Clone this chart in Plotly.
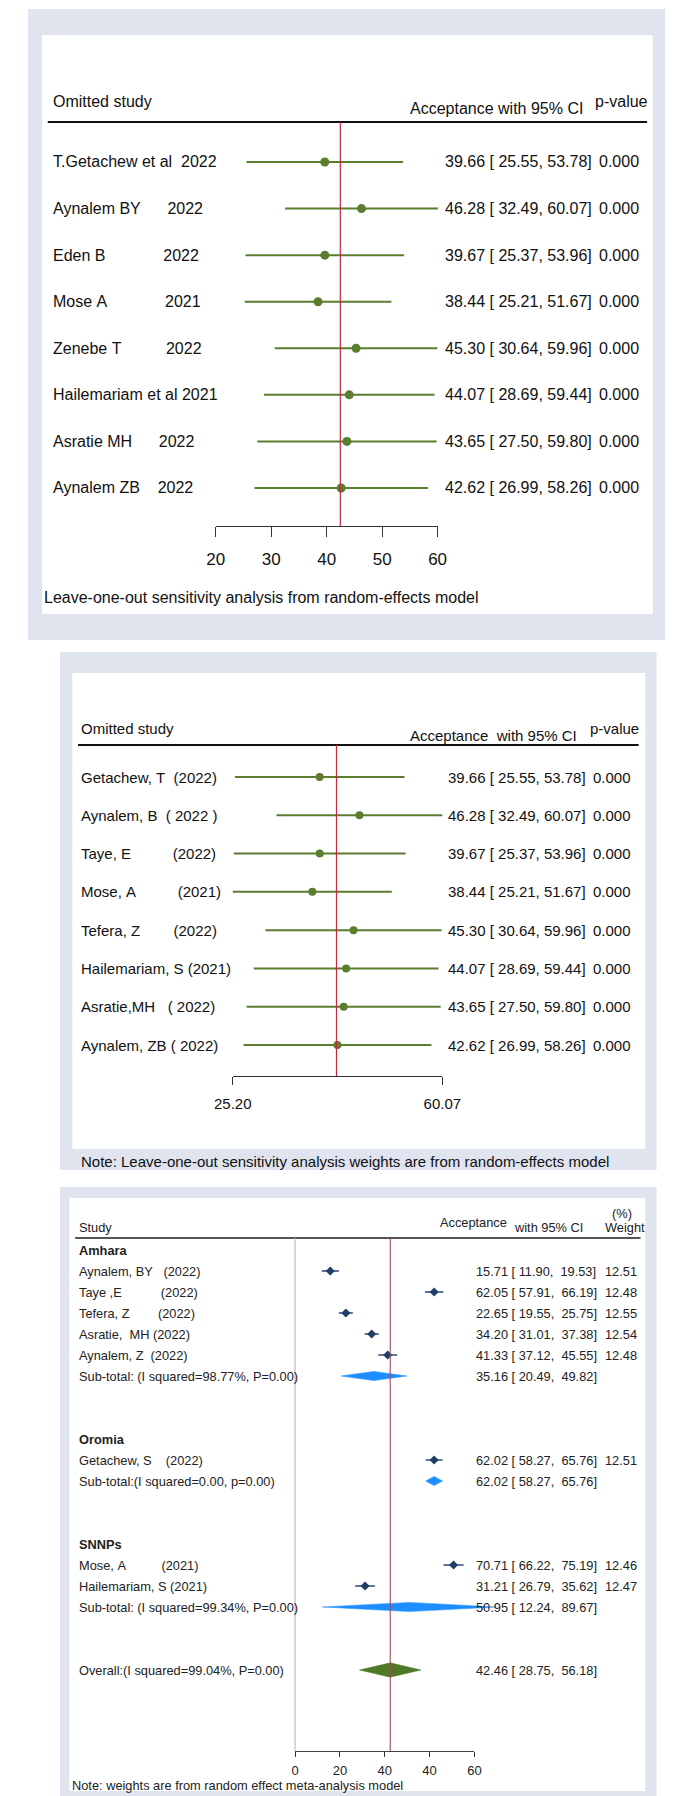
import plotly.graph_objects as go

W, H = 677, 1796

# ---------------- data ----------------
# Leave-one-out (panel 1 labels)
loo_labels_a = ["T.Getachew et al  2022", "Aynalem BY      2022", "Eden B             2022",
                "Mose A             2021", "Zenebe T          2022", "Hailemariam et al 2021",
                "Asratie MH      2022", "Aynalem ZB    2022"]
# Leave-one-out (panel 2 labels)
loo_labels_b = ["Getachew, T  (2022)", "Aynalem, B  ( 2022 )", "Taye, E          (2022)",
                "Mose, A          (2021)", "Tefera, Z        (2022)", "Hailemariam, S (2021)",
                "Asratie,MH   ( 2022)", "Aynalem, ZB ( 2022)"]
loo_est = [39.66, 46.28, 39.67, 38.44, 45.30, 44.07, 43.65, 42.62]
loo_lo = [25.55, 32.49, 25.37, 25.21, 30.64, 28.69, 27.50, 26.99]
loo_hi = [53.78, 60.07, 53.96, 51.67, 59.96, 59.44, 59.80, 58.26]
loo_p = [0.000] * 8

ticks_a = [20, 30, 40, 50, 60]
ticks_b = [25.20, 60.07]

# Subgroup forest plot
groups = ["Amhara", "Oromia", "SNNPs"]
study_group = ["Amhara", "Amhara", "Amhara", "Amhara", "Amhara", "Oromia", "SNNPs", "SNNPs"]
study_labels = ["Aynalem, BY   (2022)", "Taye ,E           (2022)", "Tefera, Z        (2022)",
                "Asratie,  MH (2022)", "Aynalem, Z  (2022)", "Getachew, S    (2022)",
                "Mose, A          (2021)", "Hailemariam, S (2021)"]
study_est = [15.71, 62.05, 22.65, 34.20, 41.33, 62.02, 70.71, 31.21]
study_lo = [11.90, 57.91, 19.55, 31.01, 37.12, 58.27, 66.22, 26.79]
study_hi = [19.53, 66.19, 25.75, 37.38, 45.55, 65.76, 75.19, 35.62]
study_wt = [12.51, 12.48, 12.55, 12.54, 12.48, 12.51, 12.46, 12.47]
sub_labels = ["Sub-total: (I squared=98.77%, P=0.00)", "Sub-total:(I squared=0.00, p=0.00)",
              "Sub-total: (I squared=99.34%, P=0.00)"]
sub_est = [35.16, 62.02, 50.95]
sub_lo = [20.49, 58.27, 12.24]
sub_hi = [49.82, 65.76, 89.67]
overall_label = "Overall:(I squared=99.04%, P=0.00)"
overall_est, overall_lo, overall_hi = 42.46, 28.75, 56.18
ticks_c = [0, 20, 40, 60, 80]
ticktext_c = ["0", "20", "40", "40", "60"]

# ---------------- helpers ----------------
def X(p):
    return p / W

def Y(p):
    return 1 - p / H

def lin(p, p0, v0, p1, v1):
    return v0 + (p - p0) * (v1 - v0) / (p1 - p0)

def nb(s):
    return s.replace(" ", "\u00a0")

NARROW = "Liberation Sans Narrow, Arial Narrow, Liberation Sans, Arial, sans-serif"
ARIAL = "Liberation Sans, Arial, sans-serif"
FS1, FS2 = 16, 15
FRAME = "#DFE4EF"
GREEN = "#5A7D2E"
RED = "#C8283C"

fig = go.Figure()
shapes = []
annotations = []
layout = dict(width=W, height=H, margin=dict(l=0, r=0, t=0, b=0),
              paper_bgcolor="white", plot_bgcolor="rgba(0,0,0,0)", showlegend=False)

panels = [
    dict(frame=(1, 1, 676, 632), white=(16, 27, 663, 606), ax=(200, 435), axis_y=518,
         row0=154, drow=46.57, header_y=114, header_x=(22, 657)),
    dict(frame=(35, 644, 667, 1162), white=(48, 665, 655, 1141), ax=(218, 440), axis_y=1068,
         row0=769, drow=38.29, header_y=737, header_x=(54, 648)),
    dict(frame=(35, 1179, 667, 1794), white=(45, 1190, 655, 1783), ax=(284, 474), axis_y=1743,
         row0=1242, drow=21.0, header_y=1230, header_x=(51, 650)),
]
axis_vals = [(ticks_a[0], ticks_a[-1]), (ticks_b[0], ticks_b[-1]), (ticks_c[0], ticks_c[-1])]

for i, pnl in enumerate(panels):
    fx0, fy0, fx1, fy1 = pnl["frame"]
    wx0, wy0, wx1, wy1 = pnl["white"]
    shapes.append(dict(type="rect", xref="paper", yref="paper", x0=X(fx0), x1=X(fx1),
                       y0=Y(fy1), y1=Y(fy0), fillcolor=FRAME, line=dict(width=0), layer="below"))
    shapes.append(dict(type="rect", xref="paper", yref="paper", x0=X(wx0), x1=X(wx1),
                       y0=Y(wy1), y1=Y(wy0), fillcolor="white", line=dict(width=0), layer="below"))
    v0, v1 = axis_vals[i]
    p0, p1 = pnl["ax"]
    xd = 2 * i + 1
    xt = 2 * i + 2
    yn = i + 1
    xd_name = "xaxis" if xd == 1 else f"xaxis{xd}"
    yd_name = "yaxis" if yn == 1 else f"yaxis{yn}"
    layout[xd_name] = dict(domain=[X(wx0), X(wx1)],
                           range=[lin(wx0, p0, v0, p1, v1), lin(wx1, p0, v0, p1, v1)],
                           visible=False, anchor=f"y{'' if yn == 1 else yn}")
    layout[yd_name] = dict(domain=[Y(wy1), Y(wy0)],
                           range=[(wy1 - pnl["row0"]) / pnl["drow"], (wy0 - pnl["row0"]) / pnl["drow"]],
                           visible=False, anchor=f"x{'' if xd == 1 else xd}")
    pnl["xd"] = "x" if xd == 1 else f"x{xd}"
    pnl["xt"] = f"x{xt}"
    pnl["y"] = "y" if yn == 1 else f"y{yn}"

# tick axes
tickfonts = [dict(family=NARROW, size=FS1 + 1, color="#111"),
             dict(family=NARROW, size=FS2, color="#111"),
             dict(family=ARIAL, size=13, color="#222")]
tickvals = [ticks_a, ticks_b, ticks_c]
ticktexts = [[str(t) for t in ticks_a], [f"{t:.2f}" for t in ticks_b], ticktext_c]
ticklens = [10, 8, 5]
standoffs = [7, 6, 2]
for i, pnl in enumerate(panels):
    v0, v1 = axis_vals[i]
    p0, p1 = pnl["ax"]
    layout[f"xaxis{2 * i + 2}"] = dict(
        domain=[X(p0), X(p1)], range=[v0, v1], anchor="free", position=Y(pnl["axis_y"]),
        showline=True, linecolor="#333" if i < 2 else "#444", linewidth=1.3 if i < 2 else 1.2,
        ticks="outside", ticklen=ticklens[i], tickwidth=1.2, tickcolor="#333",
        tickvals=tickvals[i], ticktext=ticktexts[i], tickfont=tickfonts[i],
        showgrid=False, zeroline=False, ticklabelstandoff=standoffs[i])
    fig.add_trace(go.Scatter(x=[v0], y=[0], xaxis=pnl["xt"], yaxis=pnl["y"], mode="markers",
                             marker=dict(opacity=0), hoverinfo="skip", showlegend=False))

# ---------------- panels 1 & 2: leave-one-out ----------------
loo_cfg = [
    dict(labels=loo_labels_a, fs=FS1, lab_x=25, est_x=441, p_x=604, msize=9, lw=2.0,
         hdr=("Omitted study", 25, 94), acc=("Acceptance with 95% CI", 591, 100), pv=("p-value", 600, 94)),
    dict(labels=loo_labels_b, fs=FS2, lab_x=55, est_x=444, p_x=598, msize=8, lw=2.0,
         hdr=("Omitted study", 55, 720), acc=("Acceptance  with 95% CI", 585, 727), pv=("p-value", 594, 720)),
]
for i in range(2):
    pnl = panels[i]
    cfg = loo_cfg[i]
    rows = list(range(len(loo_est)))
    lx, ly = [], []
    for r, lo, hi in zip(rows, loo_lo, loo_hi):
        lx += [lo, hi, None]
        ly += [r, r, None]
    fig.add_trace(go.Scatter(x=lx, y=ly, xaxis=pnl["xd"], yaxis=pnl["y"], mode="lines",
                             line=dict(color=GREEN, width=cfg["lw"]), hoverinfo="skip"))
    fig.add_trace(go.Scatter(x=loo_est, y=rows, xaxis=pnl["xd"], yaxis=pnl["y"], mode="markers",
                             marker=dict(color=GREEN, size=cfg["msize"], symbol="circle"),
                             hoverinfo="skip"))
    font = dict(family=NARROW, size=cfg["fs"], color="#111")
    for r, lab, e, lo, hi, p in zip(rows, cfg["labels"], loo_est, loo_lo, loo_hi, loo_p):
        annotations.append(dict(text=nb(lab), x=X(cfg["lab_x"]), y=r, xref="paper", yref=pnl["y"],
                                xanchor="left", yanchor="middle", showarrow=False, font=font))
        annotations.append(dict(text=nb(f"{e:.2f} [ {lo:.2f}, {hi:.2f}]"), x=X(cfg["est_x"]), y=r,
                                xref="paper", yref=pnl["y"], xanchor="left", yanchor="middle",
                                showarrow=False, font=font))
        annotations.append(dict(text=f"{p:.3f}", x=X(cfg["p_x"]), y=r, xref="paper", yref=pnl["y"],
                                xanchor="left", yanchor="middle", showarrow=False, font=font))
    for (txt, xx, yy), anc in zip((cfg["hdr"], cfg["acc"], cfg["pv"]), ("left", "right", "left")):
        annotations.append(dict(text=nb(txt), x=X(xx), y=Y(yy), xref="paper", yref="paper",
                                xanchor=anc, yanchor="middle", showarrow=False, font=font))
    hx0, hx1 = pnl["header_x"]
    shapes.append(dict(type="line", xref="paper", yref="paper", x0=X(hx0), x1=X(hx1),
                       y0=Y(pnl["header_y"]), y1=Y(pnl["header_y"]),
                       line=dict(color="#111", width=2.2)))
    shapes.append(dict(type="line", xref=pnl["xd"], yref="paper", x0=overall_est, x1=overall_est,
                       y0=Y(pnl["axis_y"]), y1=Y(pnl["header_y"]),
                       line=dict(color=RED, width=1.2)))

annotations.append(dict(text="Leave-one-out sensitivity analysis from random-effects model",
                        x=X(16), y=Y(590), xref="paper", yref="paper", xanchor="left",
                        yanchor="middle", showarrow=False,
                        font=dict(family=NARROW, size=FS1, color="#111")))
annotations.append(dict(text="Note: Leave-one-out sensitivity analysis weights are from random-effects model",
                        x=X(55), y=Y(1153), xref="paper", yref="paper", xanchor="left",
                        yanchor="middle", showarrow=False,
                        font=dict(family=NARROW, size=FS2, color="#111")))

# ---------------- panel 3: subgroup forest plot ----------------
pnl = panels[2]
font3 = dict(family=ARIAL, size=12.8, color="#222")
rows_study, rows_sub, rows_group = [], [], []
r = 0
for g in groups:
    rows_group.append(r)
    r += 1
    for sg in study_group:
        if sg == g:
            rows_study.append(r)
            r += 1
    rows_sub.append(r)
    r += 3
row_overall = r

NAVY = "#1F3D66"
lx, ly = [], []
for rr, lo, hi in zip(rows_study, study_lo, study_hi):
    lx += [lo, hi, None]
    ly += [rr, rr, None]
fig.add_trace(go.Scatter(x=lx, y=ly, xaxis=pnl["xd"], yaxis=pnl["y"], mode="lines",
                         line=dict(color=NAVY, width=1.4), hoverinfo="skip"))
fig.add_trace(go.Scatter(x=study_est, y=rows_study, xaxis=pnl["xd"], yaxis=pnl["y"], mode="markers",
                         marker=dict(color=NAVY, size=7, symbol="diamond"), hoverinfo="skip"))

def diamond(lo, est, hi, rr, h, color):
    fig.add_trace(go.Scatter(x=[lo, est, hi, est, lo], y=[rr, rr - h, rr, rr + h, rr],
                             xaxis=pnl["xd"], yaxis=pnl["y"], mode="lines", fill="toself",
                             fillcolor=color, line=dict(color=color, width=0.5), hoverinfo="skip"))

for lo, e, hi, rr in zip(sub_lo, sub_est, sub_hi, rows_sub):
    diamond(lo, e, hi, rr, 0.22, "#1E8EFF")
diamond(overall_lo, overall_est, overall_hi, row_overall, 0.34, "#4E7A27")

for g, rr in zip(groups, rows_group):
    annotations.append(dict(text=f"<b>{g}</b>", x=X(53), y=rr, xref="paper", yref=pnl["y"],
                            xanchor="left", yanchor="middle", showarrow=False, font=font3))
for lab, e, lo, hi, w, rr in zip(study_labels, study_est, study_lo, study_hi, study_wt, rows_study):
    annotations.append(dict(text=nb(lab), x=X(53), y=rr, xref="paper", yref=pnl["y"],
                            xanchor="left", yanchor="middle", showarrow=False, font=font3))
    annotations.append(dict(text=nb(f"{e:.2f} [ {lo:.2f},  {hi:.2f}]"), x=X(474), y=rr, xref="paper",
                            yref=pnl["y"], xanchor="left", yanchor="middle", showarrow=False, font=font3))
    annotations.append(dict(text=f"{w:.2f}", x=X(610), y=rr, xref="paper", yref=pnl["y"],
                            xanchor="left", yanchor="middle", showarrow=False, font=font3))
for lab, e, lo, hi, rr in zip(sub_labels, sub_est, sub_lo, sub_hi, rows_sub):
    annotations.append(dict(text=nb(lab), x=X(53), y=rr, xref="paper", yref=pnl["y"],
                            xanchor="left", yanchor="middle", showarrow=False, font=font3))
    annotations.append(dict(text=nb(f"{e:.2f} [ {lo:.2f},  {hi:.2f}]"), x=X(474), y=rr, xref="paper",
                            yref=pnl["y"], xanchor="left", yanchor="middle", showarrow=False, font=font3))
annotations.append(dict(text=nb(overall_label), x=X(53), y=row_overall, xref="paper", yref=pnl["y"],
                        xanchor="left", yanchor="middle", showarrow=False, font=font3))
annotations.append(dict(text=nb(f"{overall_est:.2f} [ {overall_lo:.2f},  {overall_hi:.2f}]"), x=X(474),
                        y=row_overall, xref="paper", yref=pnl["y"], xanchor="left", yanchor="middle",
                        showarrow=False, font=font3))

for txt, xx, yy in (("Study", 53, 1219), ("Acceptance", 435, 1214), ("with 95% CI", 514, 1219),
                    ("(%)", 618, 1205), ("Weight", 610, 1219)):
    annotations.append(dict(text=nb(txt), x=X(xx), y=Y(yy), xref="paper", yref="paper",
                            xanchor="left", yanchor="middle", showarrow=False, font=font3))
annotations.append(dict(text="Note: weights are from random effect meta-analysis model",
                        x=X(46), y=Y(1777), xref="paper", yref="paper", xanchor="left",
                        yanchor="middle", showarrow=False, font=font3))

hx0, hx1 = pnl["header_x"]
shapes.append(dict(type="line", xref="paper", yref="paper", x0=X(hx0), x1=X(hx1),
                   y0=Y(pnl["header_y"]), y1=Y(pnl["header_y"]), line=dict(color="#555", width=2)))
shapes.append(dict(type="line", xref=pnl["xd"], yref="paper", x0=ticks_c[0], x1=ticks_c[0],
                   y0=Y(pnl["axis_y"]), y1=Y(pnl["header_y"]), line=dict(color="#BDBDBD", width=1.2)))
shapes.append(dict(type="line", xref=pnl["xd"], yref="paper", x0=overall_est, x1=overall_est,
                   y0=Y(pnl["axis_y"]), y1=Y(pnl["header_y"]), line=dict(color="#A84A55", width=1.1)))

layout["shapes"] = shapes
layout["annotations"] = annotations
fig.update_layout(**layout)
fig.write_html("out.html")
